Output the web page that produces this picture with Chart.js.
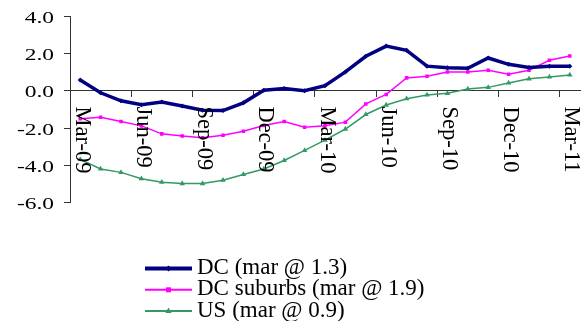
<!DOCTYPE html>
<html>
<head>
<meta charset="utf-8">
<script src="https://cdn.jsdelivr.net/npm/chart.js@4"></script>
<style>
  html, body { margin: 0; padding: 0; background: #fff; }
</style>
</head>
<body>
<canvas id="chart" width="584" height="321"></canvas>
<script>
const months = ['Mar-09', 'Apr-09', 'May-09', 'Jun-09', 'Jul-09', 'Aug-09', 'Sep-09', 'Oct-09', 'Nov-09', 'Dec-09',
    'Jan-10', 'Feb-10', 'Mar-10', 'Apr-10', 'May-10', 'Jun-10', 'Jul-10', 'Aug-10', 'Sep-10', 'Oct-10', 'Nov-10', 'Dec-10',
    'Jan-11', 'Feb-11', 'Mar-11'];
const dcValues = [0.58, -0.1, -0.53, -0.74, -0.6, -0.81, -1.04, -1.06, -0.64, 0.04, 0.13, 0.01, 0.28,
    1.02, 1.86, 2.41, 2.18, 1.33, 1.24, 1.22, 1.77, 1.43, 1.26, 1.33, 1.33];
const suburbsValues = [-1.5, -1.42, -1.65, -1.88, -2.31, -2.42, -2.52, -2.38, -2.17, -1.86, -1.65, -1.95, -1.87,
    -1.68, -0.7, -0.19, 0.7, 0.79, 1.02, 1.02, 1.11, 0.9, 1.11, 1.65, 1.88];
const usValues = [-3.68, -4.2, -4.38, -4.72, -4.91, -4.98, -4.98, -4.8, -4.49, -4.2, -3.74, -3.2, -2.65,
    -2.05, -1.27, -0.76, -0.42, -0.22, -0.13, 0.1, 0.19, 0.43, 0.65, 0.75, 0.86];
const seriesNames = ['DC (mar @ 1.3)', 'DC suburbs (mar @ 1.9)', 'US (mar @ 0.9)'];
const seriesColors = ['#000080', '#ff00ff', '#339966'];

const axisColor = '#333';
const serif = '"Liberation Serif", "Times New Roman", serif';

// draws the marker used in the plot and in the legend
function drawMarker(ctx, i, x, y) {
    ctx.fillStyle = seriesColors[i];
    ctx.beginPath();
    if (i === 0) {
        ctx.moveTo(x, y - 3); ctx.lineTo(x + 3, y); ctx.lineTo(x, y + 3); ctx.lineTo(x - 3, y);
    } else if (i === 1) {
        ctx.rect(x - 2.5, y - 2.5, 5, 5);
    } else {
        ctx.moveTo(x, y - 3.5); ctx.lineTo(x + 3.2, y + 2); ctx.lineTo(x - 3.2, y + 2);
    }
    ctx.closePath();
    ctx.fill();
}

// tick labels and legend, text is drawn wide like the original excel output
const textPlugin = {
    id: 'excelText',
    afterDraw(chart) {
        const ctx = chart.ctx;
        const xs = chart.scales.x, ys = chart.scales.y;
        ctx.save();
        ctx.fillStyle = '#000';

        ctx.font = '16.5px ' + serif;
        ctx.textAlign = 'right';
        ctx.textBaseline = 'alphabetic';
        ys.ticks.forEach(t => {
            ctx.save();
            ctx.translate(54, ys.getPixelForValue(t.value) + 6.5);
            ctx.scale(1.42, 1);
            ctx.fillText(t.value.toFixed(1), 0, 0);
            ctx.restore();
        });

        ctx.font = '22.5px ' + serif;
        ctx.textAlign = 'left';
        ctx.textBaseline = 'middle';
        const zero = ys.getPixelForValue(0);
        months.forEach((m, i) => {
            if (i % 3) return;
            ctx.save();
            ctx.translate(xs.getPixelForTick(i) + 1.5, zero + 15.5);
            ctx.rotate(Math.PI / 2);
            ctx.fillText(m, 0, 0);
            ctx.restore();
        });

        // legend
        ctx.font = '23px ' + serif;
        ctx.textBaseline = 'alphabetic';
        const widths = [4, 2, 2];
        seriesNames.forEach((name, i) => {
            const ly = 268.5 + i * 21.3;
            ctx.strokeStyle = seriesColors[i];
            ctx.lineWidth = widths[i];
            ctx.beginPath();
            ctx.moveTo(145, ly);
            ctx.lineTo(192, ly);
            ctx.stroke();
            drawMarker(ctx, i, 168.5, ly);
            ctx.fillStyle = '#000';
            ctx.fillText(name, 197, ly + 5.5);
        });
        ctx.restore();
    }
};

const ctx = document.getElementById('chart').getContext('2d');
new Chart(ctx, {
    type: 'line',
    data: {
        labels: months,
        datasets: [{
            label: seriesNames[0],
            data: dcValues,
            borderColor: seriesColors[0],
            backgroundColor: seriesColors[0],
            borderWidth: 3.5,
            pointStyle: 'rectRot',
            pointRadius: 2.5,
            pointBorderWidth: 0
        }, {
            label: seriesNames[1],
            data: suburbsValues,
            borderColor: seriesColors[1],
            backgroundColor: seriesColors[1],
            borderWidth: 1.5,
            pointStyle: 'rect',
            pointRadius: 2.5,
            pointBorderWidth: 0
        }, {
            label: seriesNames[2],
            data: usValues,
            borderColor: seriesColors[2],
            backgroundColor: seriesColors[2],
            borderWidth: 1.5,
            pointStyle: 'triangle',
            pointRadius: 3.2,
            pointBorderWidth: 0
        }]
    },
    options: {
        responsive: false,
        animation: false,
        layout: { padding: { top: 16.5, bottom: 118.5, right: 2, left: 0 } },
        plugins: {
            legend: { display: false },
            tooltip: { enabled: false }
        },
        elements: { line: { tension: 0 } },
        scales: {
            x: {
                type: 'category',
                position: { y: 0 },
                offset: true,
                ticks: { display: false, autoSkip: false },
                grid: {
                    offset: true,
                    drawOnChartArea: false,
                    tickLength: 6,
                    tickColor: c => (c.index % 3 === 0 ? axisColor : 'rgba(0,0,0,0)')
                },
                border: { display: true, color: axisColor, width: 1 }
            },
            y: {
                min: -6,
                max: 4,
                ticks: { stepSize: 2, display: false },
                grid: {
                    drawOnChartArea: false,
                    tickLength: 6,
                    tickColor: axisColor
                },
                border: { display: true, color: axisColor, width: 1 },
                afterFit: s => { s.width = 70; }
            }
        }
    },
    plugins: [textPlugin]
});
</script>
</body>
</html>
